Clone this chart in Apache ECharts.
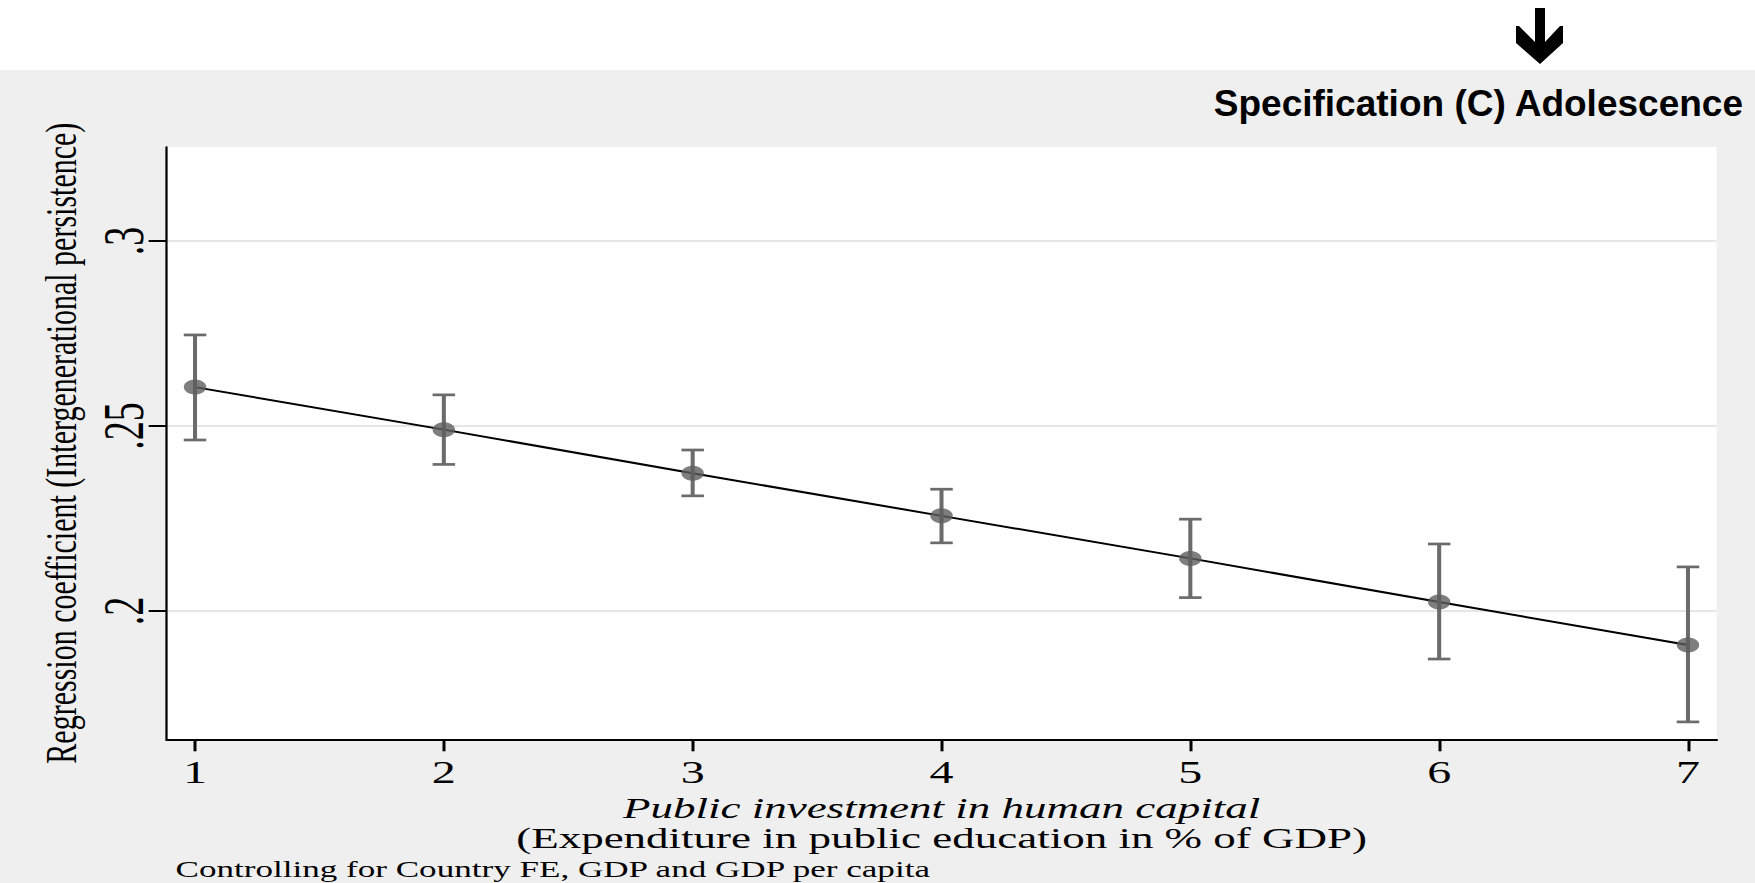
<!DOCTYPE html>
<html>
<head>
<meta charset="utf-8">
<script src="https://cdn.jsdelivr.net/npm/echarts@6/dist/echarts.min.js"></script>
<style>
  html, body { margin: 0; padding: 0; background: #fff; overflow: hidden; }
  /* the original Stata graph is stretched sideways, so draw narrow and stretch */
  #chart { width: 1170px; height: 883px; transform: scaleX(1.5); transform-origin: 0 0; }
</style>
</head>
<body>
<div id="chart"></div>
<script>
// data
const xValues = [1, 2, 3, 4, 5, 6, 7];
const coef = [0.2605, 0.2490, 0.2372, 0.2257, 0.2142, 0.2024, 0.1908];
const ciLow = [0.2462, 0.2396, 0.2311, 0.2184, 0.2036, 0.1870, 0.1700];
const ciHigh = [0.2746, 0.2584, 0.2435, 0.2329, 0.2248, 0.2181, 0.2119];
const yTicks = [0.2, 0.25, 0.3];
const xTicks = [1, 2, 3, 4, 5, 6, 7];

const SX = 1.5; // horizontal stretch of the page
const serif = '"Liberation Serif", "Times New Roman", serif';

let myChart = echarts.init(document.getElementById("chart"), null, { renderer: "svg" });

// arrow at the top right, page pixels -> chart pixels
const arrowPts = [
  [1535, 8], [1545, 8], [1545, 42], [1560, 26], [1563, 26], [1563, 43],
  [1540, 64], [1516, 43], [1516, 26], [1519, 26], [1535, 42],
].map((p) => [p[0] / SX, p[1]]);

myChart.setOption({
  backgroundColor: "#efefef",
  animation: false,
  grid: {
    left: 111.1,
    right: 25.6,
    top: 147,
    bottom: 143.7,
    show: true,
    backgroundColor: "#fff",
    borderWidth: 0,
  },
  graphic: {
    elements: [
      {
        type: "rect",
        z: -10,
        shape: { x: 0, y: 0, width: 1170, height: 70 },
        style: { fill: "#fff" },
        silent: true,
      },
      {
        type: "polygon",
        shape: { points: arrowPts },
        style: { fill: "#000" },
        silent: true,
      },
      {
        type: "text",
        x: 1162,
        y: 104,
        scaleX: 1 / SX,
        style: {
          text: "Specification (C) Adolescence",
          fontSize: 37,
          fontWeight: "bold",
          fontFamily: '"Liberation Sans", Arial, sans-serif',
          fill: "#000",
          align: "right",
          verticalAlign: "middle",
        },
      },
      {
        type: "text",
        x: 117,
        y: 869,
        style: {
          text: "Controlling for Country FE, GDP and GDP per capita",
          fontSize: 23.4,
          fontFamily: serif,
          fill: "#000",
          verticalAlign: "middle",
        },
      },
    ],
  },
  xAxis: {
    type: "value",
    min: 0.886,
    max: 7.115,
    name:
      "{i|Public investment in human capital}\n{n|(Expenditure in public education in % of GDP)}",
    nameLocation: "middle",
    nameGap: 45,
    nameTextStyle: {
      color: "#000",
      fontFamily: serif,
      fontSize: 30,
      lineHeight: 30,
      rich: {
        i: { fontStyle: "italic", fontFamily: serif, fontSize: 30, lineHeight: 30, color: "#000" },
        n: { fontFamily: serif, fontSize: 30, lineHeight: 30, color: "#000" },
      },
    },
    axisLine: { show: true, lineStyle: { color: "#000", width: 2 } },
    axisTick: { show: true, length: 12, lineStyle: { color: "#000", width: 2 }, customValues: xTicks },
    axisLabel: {
      customValues: xTicks,
      margin: 21,
      lineHeight: 24,
      color: "#000",
      fontFamily: serif,
      fontSize: 32,
    },
    splitLine: { show: false },
  },
  yAxis: {
    type: "value",
    min: 0.1653,
    max: 0.3254,
    name: "Regression coefficient (Intergenerational persistence)",
    nameLocation: "middle",
    nameGap: 49,
    nameTextStyle: { color: "#000", fontFamily: serif, fontSize: 30 },
    axisLine: { show: true, lineStyle: { color: "#000", width: 1.5 } },
    axisTick: { show: true, length: 12, lineStyle: { color: "#000", width: 2 }, customValues: yTicks },
    axisLabel: {
      customValues: yTicks,
      rotate: 90,
      margin: 10,
      color: "#000",
      fontFamily: serif,
      fontSize: 38,
      formatter: function (v) {
        return String(v).replace(/^0/, "");
      },
    },
    splitLine: { show: true, lineStyle: { color: "#e6e6e6", width: 2 } },
  },
  series: [
    {
      // fitted line
      type: "line",
      data: xValues.map((x, i) => [x, coef[i]]),
      showSymbol: false,
      lineStyle: { color: "#000", width: 2 },
      z: 2,
    },
    {
      // confidence intervals
      type: "custom",
      data: xValues.map((x, i) => [x, ciLow[i], ciHigh[i]]),
      renderItem: function (params, api) {
        let lo = api.coord([api.value(0), api.value(1)]);
        let hi = api.coord([api.value(0), api.value(2)]);
        let half = 7.5;
        let st = { stroke: "#6b6b6b", lineWidth: 2.7 };
        return {
          type: "group",
          children: [
            { type: "line", shape: { x1: lo[0], y1: lo[1], x2: hi[0], y2: hi[1] }, style: st },
            { type: "line", shape: { x1: lo[0] - half, y1: lo[1], x2: lo[0] + half, y2: lo[1] }, style: st },
            { type: "line", shape: { x1: hi[0] - half, y1: hi[1], x2: hi[0] + half, y2: hi[1] }, style: st },
          ],
        };
      },
      z: 3,
    },
    {
      // point estimates
      type: "scatter",
      data: xValues.map((x, i) => [x, coef[i]]),
      symbol: "circle",
      symbolSize: 15,
      itemStyle: { color: "#5e5e5e" },
      z: 4,
    },
  ],
});
</script>
</body>
</html>
